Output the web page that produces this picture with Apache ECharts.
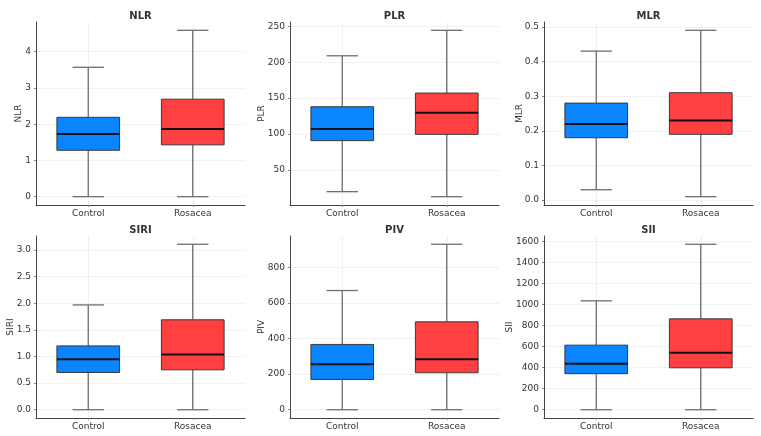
<!DOCTYPE html>
<html>
<head>
<meta charset="utf-8">
<script src="https://cdn.jsdelivr.net/npm/echarts@6/dist/echarts.min.js"></script>
<style>
html, body { margin: 0; padding: 0; background: #fff; }
#chart { width: 761px; height: 436px; }
</style>
</head>
<body>
<div id="chart"></div>
<script>
const groups = ['Control', 'Rosacea'];
const colors = ['#0a84ff', '#ff4040'];
const markers = ['NLR', 'PLR', 'MLR', 'SIRI', 'PIV', 'SII'];

// each row: [min, Q1, median, Q3, max]
const nlrStats = [[0, 1.28, 1.73, 2.19, 3.57], [0, 1.43, 1.87, 2.69, 4.59]];
const plrStats = [[19.6, 90.7, 107, 138, 209], [12.6, 99.5, 129.5, 157, 244.5]];
const mlrStats = [[0.03, 0.18, 0.22, 0.28, 0.43], [0.01, 0.19, 0.23, 0.31, 0.49]];
const siriStats = [[0, 0.70, 0.95, 1.20, 1.97], [0, 0.75, 1.04, 1.69, 3.11]];
const pivStats = [[0, 170, 255, 367, 670], [0, 208, 284, 494, 930]];
const siiStats = [[0, 342, 436, 613, 1034], [0, 398, 541, 863, 1571]];

const nlrTicks = [0, 1, 2, 3, 4];
const plrTicks = [50, 100, 150, 200, 250];
const mlrTicks = [0, 0.1, 0.2, 0.3, 0.4, 0.5];
const siriTicks = [0, 0.5, 1.0, 1.5, 2.0, 2.5, 3.0];
const pivTicks = [0, 200, 400, 600, 800];
const siiTicks = [0, 200, 400, 600, 800, 1000, 1200, 1400, 1600];

const allStats = [nlrStats, plrStats, mlrStats, siriStats, pivStats, siiStats];
const allTicks = [nlrTicks, plrTicks, mlrTicks, siriTicks, pivTicks, siiTicks];
const decimals = [0, 0, 1, 1, 0, 0];

const lefts = [36, 290, 544];
const tops = [22, 236];
const heights = [183, 182];
const nameGaps = [13, 24, 20, 21, 24, 30];
const font = 'DejaVu Sans';

const chart = echarts.init(document.getElementById('chart'));

function renderBox(params, api) {
    const x = api.value(0);
    const cx = api.coord([x, api.value(3)])[0];
    const y = (i) => api.coord([x, api.value(i)])[1];
    const yMin = y(1), yQ1 = y(2), yMed = y(3), yQ3 = y(4), yMax = y(5);
    const w = api.size([1, 0])[0] * 0.6;
    const whisk = { stroke: '#6e6e6e', lineWidth: 1.3 };
    return {
        type: 'group',
        children: [
            { type: 'line', shape: { x1: cx, y1: yQ1, x2: cx, y2: yMin }, style: whisk },
            { type: 'line', shape: { x1: cx, y1: yQ3, x2: cx, y2: yMax }, style: whisk },
            { type: 'line', shape: { x1: cx - w / 4, y1: yMin, x2: cx + w / 4, y2: yMin }, style: whisk },
            { type: 'line', shape: { x1: cx - w / 4, y1: yMax, x2: cx + w / 4, y2: yMax }, style: whisk },
            { type: 'rect', shape: { x: cx - w / 2, y: yQ3, width: w, height: yQ1 - yQ3 },
              style: { fill: colors[params.dataIndex], stroke: '#3a3a3a', lineWidth: 1 } },
            { type: 'line', shape: { x1: cx - w / 2, y1: yMed, x2: cx + w / 2, y2: yMed },
              style: { stroke: '#111', lineWidth: 2 } }
        ]
    };
}

const grid = [], xAxis = [], yAxis = [], title = [], series = [];
markers.forEach((m, i) => {
    const row = Math.floor(i / 3), col = i % 3;
    const stats = allStats[i];
    let lo = Infinity, hi = -Infinity;
    stats.forEach((s) => { lo = Math.min(lo, s[0]); hi = Math.max(hi, s[4]); });
    const pad = (hi - lo) * 0.05;
    grid.push({ left: lefts[col], top: tops[row], width: 209, height: heights[row] });
    title.push({
        text: m, left: lefts[col] + 104.5, top: tops[row] - 11, textAlign: 'center', padding: 0,
        textStyle: { fontFamily: font, fontSize: 10, fontWeight: 'bold', color: '#333' }
    });
    xAxis.push({
        type: 'value', gridIndex: i, min: 0.5, max: 2.5,
        axisLine: { show: true, onZero: false, lineStyle: { color: '#444', width: 1 } },
        axisTick: { show: true, length: 2, customValues: [1, 2], lineStyle: { color: '#888' } },
        axisLabel: {
            customValues: [1, 2], margin: 4, fontFamily: font, fontSize: 9, color: '#333',
            formatter: (v) => groups[Math.round(v) - 1]
        },
        splitLine: { show: true, lineStyle: { color: '#dcdcdc', type: 'dotted', width: 0.8 } }
    });
    yAxis.push({
        type: 'value', gridIndex: i, min: lo - pad, max: hi + pad,
        name: m, nameLocation: 'middle', nameGap: nameGaps[i], nameMoveOverlap: false,
        nameTextStyle: { fontFamily: font, fontSize: 9, color: '#333' },
        axisLine: { show: true, onZero: false, lineStyle: { color: '#444', width: 1 } },
        axisTick: { show: true, length: 2, customValues: allTicks[i], lineStyle: { color: '#888' } },
        axisLabel: {
            customValues: allTicks[i], margin: 5, fontFamily: font, fontSize: 9, color: '#333',
            formatter: (v) => v.toFixed(decimals[i])
        },
        splitLine: { show: true, lineStyle: { color: '#dcdcdc', type: 'dotted', width: 0.8 } }
    });
    series.push({
        type: 'custom', xAxisIndex: i, yAxisIndex: i,
        renderItem: renderBox,
        encode: { x: 0, y: [1, 2, 3, 4, 5] },
        data: stats.map((s, k) => [k + 1].concat(s))
    });
});

chart.setOption({
    animation: false,
    backgroundColor: '#fff',
    title, grid, xAxis, yAxis, series
});
</script>
</body>
</html>
